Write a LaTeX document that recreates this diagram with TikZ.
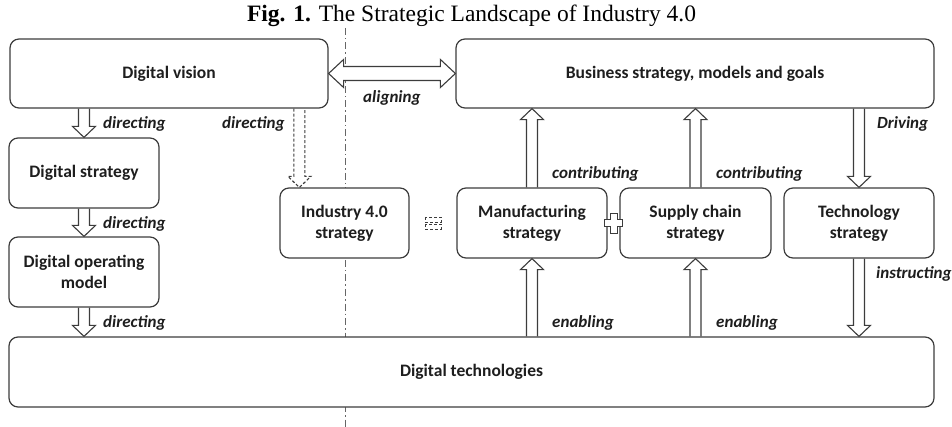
\documentclass[tikz,border=0pt]{standalone}
\usepackage{fontspec}
\setmainfont{Carlito}
\newfontfamily\titlefont{Liberation Serif}
\usetikzlibrary{calc}
\definecolor{edge}{HTML}{3C3C3C}
\definecolor{txt}{HTML}{1E1E1E}
\tikzset{
 box/.style={draw=edge, line width=1.2pt, rounded corners=9pt, fill=white,
   font=\fontsize{17.5}{21}\selectfont\bfseries, text=txt, align=center, inner sep=0pt},
 lbl/.style={font=\fontsize{17}{20}\selectfont\bfseries\itshape, text=txt, anchor=west, inner sep=0pt},
 barrow/.style={draw=edge, line width=1.1pt, line join=miter},
 axisline/.style={draw=gray!80!black, line width=0.8pt, dash pattern=on 7pt off 3pt on 1.5pt off 3pt},
 symb/.style={draw=edge, line width=0.8pt},
}
\newcommand\blockarrow[3][]{%
  \draw[barrow,#1] let \p1=#2, \p2=#3, \n1={sign(\y2-(\y1))} in
    (\x1-5.5,\y1) -- (\x1-5.5,\y2-11*\n1) -- (\x1-11.5,\y2-11*\n1) -- (\x1,\y2)
    -- (\x1+11.5,\y2-11*\n1) -- (\x1+5.5,\y2-11*\n1) -- (\x1+5.5,\y1);
}
\begin{document}
\begin{tikzpicture}[x=1pt,y=-1pt]
\useasboundingbox (0,0) rectangle (952,427);
% title
\node[anchor=base, inner sep=0pt, font=\titlefont\fontsize{23.5}{26}\selectfont, text=black] (title) at (471.5,22)
  {\textbf{Fig. 1.} The Strategic Landscape of Industry 4.0};
% separator line
\coordinate (sepT) at (345,28);
\coordinate (sepB) at (345,427);
\draw[axisline] (sepT) -- (sepB);
% boxes
\node[box, minimum width=318pt, minimum height=69pt] (dv) at (169,73.5) {Digital vision};
\node[box, minimum width=478pt, minimum height=69pt] (bs) at (695,73.5) {Business strategy, models and goals};
\node[box, minimum width=150pt, minimum height=70pt] (ds) at (84,173) {Digital strategy};
\node[box, minimum width=150pt, minimum height=70pt] (dom) at (84,272) {Digital operating\\model};
\node[box, minimum width=129pt, minimum height=70pt] (i4) at (344.5,223) {Industry 4.0\\strategy};
\node[box, minimum width=150pt, minimum height=70pt] (ms) at (532,223) {Manufacturing\\strategy};
\node[box, minimum width=151pt, minimum height=70pt] (sc) at (695.5,223) {Supply chain\\strategy};
\node[box, minimum width=150pt, minimum height=70pt] (ts) at (859,223) {Technology\\strategy};
\node[box, minimum width=925pt, minimum height=70pt] (dt) at (471.5,372) {Digital technologies};
% left column arrows
\blockarrow{(dv.south -| ds.north)}{(ds.north)}
\blockarrow{(ds.south)}{(dom.north)}
\blockarrow{(dom.south)}{(dt.north -| dom.south)}
% dotted arrow to Industry 4.0
\path (i4.north west) ++(20,0) coordinate (i4t);
\blockarrow[densely dashed]{(dv.south -| i4t)}{(i4t)}
% aligning arrow
\draw[barrow, fill=white] let \p1=(dv.east), \p2=(bs.west) in
  (\x1,\y1) -- (\x1+15,\y1+14) -- (\x1+15,\y1+7) -- (\x2-15,\y1+7) -- (\x2-15,\y1+14)
  -- (\x2,\y1) -- (\x2-15,\y1-14) -- (\x2-15,\y1-7) -- (\x1+15,\y1-7) -- (\x1+15,\y1-14) -- cycle;
% right side arrows
\blockarrow{(ms.north)}{(bs.south -| ms.north)}
\blockarrow{(sc.north)}{(bs.south -| sc.north)}
\blockarrow{(bs.south -| ts.north)}{(ts.north)}
\blockarrow{(dt.north -| ms.south)}{(ms.south)}
\blockarrow{(dt.north -| sc.south)}{(sc.south)}
\blockarrow{(ts.south)}{(dt.north -| ts.south)}
% equals symbol (dashed)
\coordinate (eqc) at ($(i4.east)!0.5!(ms.west)$);
\draw[symb, densely dashed] let \p1=(eqc) in (\x1-8,\y1+6) rectangle (\x1+8,\y1+1);
\draw[symb, densely dashed] let \p1=(eqc) in (\x1-8,\y1-1) rectangle (\x1+8,\y1-6);
% plus symbol
\coordinate (plc) at ($(ms.east)!0.5!(sc.west)$);
\draw[symb, fill=white] let \p1=(plc) in
  (\x1-3.5,\y1+10) -- (\x1+3.5,\y1+10) -- (\x1+3.5,\y1+3.5) -- (\x1+9,\y1+3.5) -- (\x1+9,\y1-3.5)
  -- (\x1+3.5,\y1-3.5) -- (\x1+3.5,\y1-10) -- (\x1-3.5,\y1-10) -- (\x1-3.5,\y1-3.5) -- (\x1-9,\y1-3.5)
  -- (\x1-9,\y1+3.5) -- (\x1-3.5,\y1+3.5) -- cycle;
% labels
\node[lbl] (l1) at (103,124) {directing};
\node[lbl] (l2) at (222,124) {directing};
\node[lbl] (l3) at (103,224) {directing};
\node[lbl] (l4) at (103,323) {directing};
\node[lbl] (l5) at (363,98) {aligning};
\node[lbl] (l6) at (877,124) {Driving};
\node[lbl] (l7) at (552,174) {contributing};
\node[lbl] (l8) at (716,174) {contributing};
\node[lbl] (l9) at (876,274) {instructing};
\node[lbl] (l10) at (552,323) {enabling};
\node[lbl] (l11) at (716,323) {enabling};
\end{tikzpicture}
\end{document}
